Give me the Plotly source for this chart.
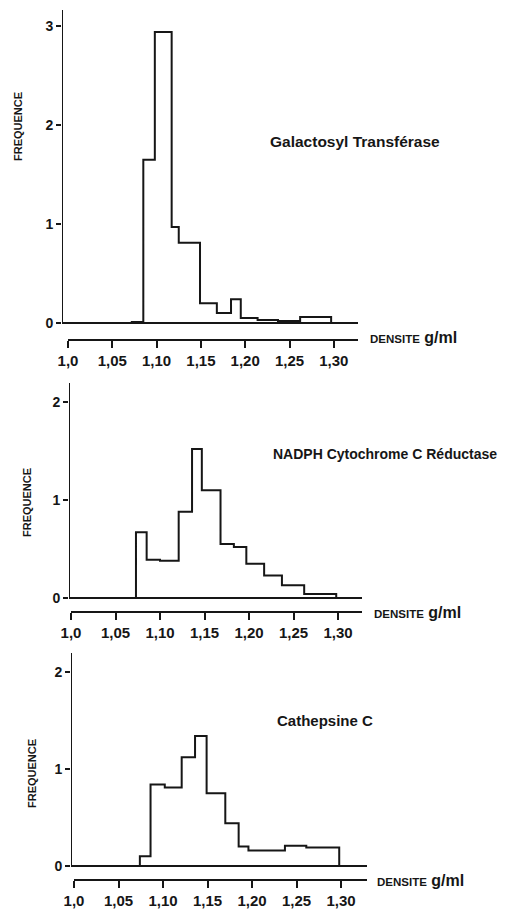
import plotly.graph_objects as go

# ---------------- data ----------------
tick_vals = [1.00, 1.05, 1.10, 1.15, 1.20, 1.25, 1.30]
tick_text = ["1,0", "1,05", "1,10", "1,15", "1,20", "1,25", "1,30"]

titles = ["Galactosyl Transférase", "NADPH Cytochrome C Réductase", "Cathepsine C"]

edges_gal = [1.072, 1.085, 1.098, 1.117, 1.125, 1.149, 1.168, 1.184, 1.195, 1.214, 1.237, 1.262, 1.297]
freq_gal = [0.01, 1.65, 2.94, 0.97, 0.81, 0.20, 0.10, 0.24, 0.05, 0.03, 0.02, 0.06]

edges_nadph = [1.073, 1.085, 1.100, 1.121, 1.136, 1.147, 1.168, 1.183, 1.197, 1.217, 1.237, 1.262, 1.298]
freq_nadph = [0.67, 0.39, 0.38, 0.88, 1.52, 1.10, 0.55, 0.52, 0.35, 0.23, 0.13, 0.04]

edges_cath = [1.074, 1.086, 1.102, 1.121, 1.136, 1.149, 1.170, 1.185, 1.196, 1.237, 1.261, 1.298]
freq_cath = [0.10, 0.84, 0.81, 1.12, 1.34, 0.75, 0.44, 0.20, 0.16, 0.21, 0.19]

y_ticks = [[0, 1, 2, 3], [0, 1, 2], [0, 1, 2]]

# ---------------- layout geometry (pixels) ----------------
W, H = 509, 918
FONT = "Liberation Sans"
INK = "#161616"

panels = [
    dict(edges=edges_gal, vals=freq_gal, yaxis_px=62, one_px=68, px005=44.3, right_px=358,
         y0_px=323, ppu=99, ytop_px=10, xline_py=340, freq_x=18, freq_y=127,
         title_px=(268, 142), title_size=15.5, dens_px=(368, 338)),
    dict(edges=edges_nadph, vals=freq_nadph, yaxis_px=69, one_px=71, px005=44.5, right_px=362,
         y0_px=598, ppu=98, ytop_px=383, xline_py=612, freq_x=27, freq_y=503,
         title_px=(271, 454), title_size=14, dens_px=(372, 612)),
    dict(edges=edges_cath, vals=freq_cath, yaxis_px=71, one_px=74, px005=44.5, right_px=367,
         y0_px=866, ppu=97, ytop_px=653, xline_py=880, freq_x=32, freq_y=773,
         title_px=(275, 720), title_size=15, dens_px=(375, 880)),
]


def PX(px):
    return px / W


def PY(py):
    return 1 - py / H


fig = go.Figure()
shapes = []
annotations = []
YMIN = -0.04

for i, p in enumerate(panels):
    n = "" if i == 0 else str(i + 1)
    xa, ya = "x" + n, "y" + n
    s = p["px005"] / 0.05
    r0 = 1 + (p["yaxis_px"] - p["one_px"]) / s
    r1 = 1 + (p["right_px"] - p["one_px"]) / s
    ytop = (p["y0_px"] - p["ytop_px"]) / p["ppu"]
    dom_bottom_py = p["y0_px"] - YMIN * p["ppu"]

    # step outline of the histogram
    e, v = p["edges"], p["vals"]
    xs, ys = [e[0]], [0]
    for k in range(len(v)):
        xs += [e[k], e[k + 1]]
        ys += [v[k], v[k]]
    xs.append(e[-1])
    ys.append(0)
    fig.add_trace(go.Scatter(x=xs, y=ys, mode="lines", xaxis=xa, yaxis=ya,
                             line=dict(color=INK, width=2), showlegend=False,
                             hoverinfo="skip"))

    fig.update_layout(**{
        ("xaxis" + n): dict(domain=[PX(p["yaxis_px"]), PX(p["right_px"])], range=[r0, r1],
                            anchor="free", position=PY(p["xline_py"]), automargin=False,
                            tickvals=tick_vals, ticktext=tick_text, ticks="outside",
                            ticklen=7, tickwidth=2, tickcolor=INK, showline=False,
                            showgrid=False, zeroline=False,
                            tickfont=dict(family=FONT, size=15, color=INK, weight="bold")),
        ("yaxis" + n): dict(domain=[PY(dom_bottom_py), PY(p["ytop_px"])], range=[YMIN, ytop],
                            anchor=xa, tickvals=y_ticks[i], ticks="outside", ticklen=5,
                            tickwidth=2, tickcolor=INK, showline=False, showgrid=False,
                            zeroline=False, automargin=False,
                            tickfont=dict(family=FONT, size=14, color=INK, weight="bold")),
    })

    # y-axis line
    shapes.append(dict(type="line", xref=xa, yref=ya, x0=r0, x1=r0, y0=0, y1=ytop,
                       line=dict(color=INK, width=2)))
    # baseline at zero
    shapes.append(dict(type="line", xref=xa, yref=ya, x0=r0, x1=r1, y0=0, y1=0,
                       line=dict(color=INK, width=2)))
    # separate density axis line
    shapes.append(dict(type="line", xref=xa, yref="paper", x0=1.0, x1=r1,
                       y0=PY(p["xline_py"]), y1=PY(p["xline_py"]),
                       line=dict(color=INK, width=2)))

    annotations.append(dict(text="FREQUENCE", xref="paper", yref="paper",
                            x=PX(p["freq_x"]), y=PY(p["freq_y"]), textangle=-90,
                            showarrow=False, xanchor="center", yanchor="middle",
                            font=dict(family=FONT, size=11, color=INK, weight="bold")))
    annotations.append(dict(text=titles[i], xref="paper", yref="paper",
                            x=PX(p["title_px"][0]), y=PY(p["title_px"][1]),
                            showarrow=False, xanchor="left", yanchor="middle",
                            font=dict(family=FONT, size=p["title_size"], color=INK,
                                      weight="bold")))
    annotations.append(dict(text="<span style='font-size:11.5px'>DENSITE</span> g/ml",
                            xref="paper", yref="paper",
                            x=PX(p["dens_px"][0]), y=PY(p["dens_px"][1]),
                            showarrow=False, xanchor="left", yanchor="middle",
                            font=dict(family=FONT, size=16, color=INK, weight="bold")))

fig.update_layout(width=W, height=H, margin=dict(l=0, r=0, t=0, b=0, autoexpand=False),
                  paper_bgcolor="white", plot_bgcolor="white",
                  shapes=shapes, annotations=annotations, showlegend=False)

fig.write_html("out.html", config={"displayModeBar": False},
               post_script="document.body.style.margin='0';document.body.style.overflow='hidden';")
